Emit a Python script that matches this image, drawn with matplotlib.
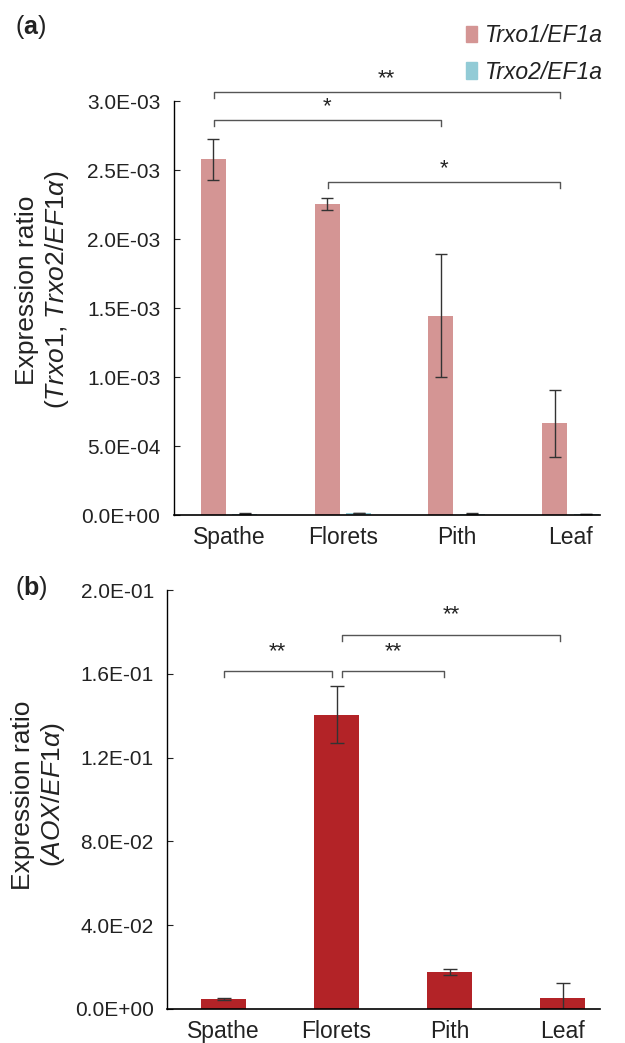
import matplotlib
matplotlib.use("Agg")
import matplotlib.pyplot as plt
from matplotlib.patches import Patch

plt.rcParams['font.family'] = ['Liberation Sans', 'DejaVu Sans']
plt.rcParams['mathtext.fontset'] = 'custom'
plt.rcParams['mathtext.rm'] = 'Liberation Sans'
plt.rcParams['mathtext.it'] = 'Liberation Sans:italic'
plt.rcParams['mathtext.bf'] = 'Liberation Sans:bold'

# data
tissues = ['Spathe', 'Florets', 'Pith', 'Leaf']
trxo1 = [2.58e-3, 2.255e-3, 1.445e-3, 0.665e-3]
trxo1_err = [0.15e-3, 0.045e-3, 0.445e-3, 0.245e-3]
trxo2 = [1.0e-5, 1.5e-5, 1.0e-5, 0.6e-5]
trxo2_err = [0.3e-5, 0.3e-5, 0.3e-5, 0.2e-5]
aox = [0.0048, 0.1405, 0.0176, 0.0052]
aox_err = [0.0006, 0.0135, 0.0015, 0.0072]

a_ticks = [0, 0.5e-3, 1.0e-3, 1.5e-3, 2.0e-3, 2.5e-3, 3.0e-3]
a_ticklabels = ['0.0E+00', '5.0E-04', '1.0E-03', '1.5E-03', '2.0E-03', '2.5E-03', '3.0E-03']
b_ticks = [0, 0.04, 0.08, 0.12, 0.16, 0.2]
b_ticklabels = ['0.0E+00', '4.0E-02', '8.0E-02', '1.2E-01', '1.6E-01', '2.0E-01']

# significance brackets: (x start, x end, height, label)
a_sig = [(-0.136, 2.907, 3.069e-3, '**'),
         (-0.136, 1.864, 2.866e-3, '*'),
         (0.866, 2.907, 2.416e-3, '*')]
b_sig = [(0.0, 0.96, 0.1613, '**'),
         (1.049, 1.95, 0.1613, '**'),
         (1.049, 2.978, 0.1785, '**')]

c_trxo1 = '#D49594'
c_trxo2 = '#92CBD6'
c_aox = '#B32327'
ecol = '#333333'
tcol = '#222222'

fig = plt.figure(figsize=(6.25, 10.43), dpi=100)
ax1 = fig.add_axes([0.2776, 0.5062, 0.6824, 0.3965])
ax2 = fig.add_axes([0.2672, 0.0326, 0.6928, 0.4017])


def style(ax):
    for s in ['top', 'right']:
        ax.spines[s].set_visible(False)
    ax.spines['left'].set_linewidth(1.0)
    ax.spines['bottom'].set_linewidth(1.2)
    ax.tick_params(axis='y', direction='in', length=4, width=0.8, pad=9.5,
                   labelsize=15, colors=tcol)
    ax.tick_params(axis='x', length=0, pad=8, labelsize=16.5, colors=tcol)


def brackets(ax, sigs, drop, off):
    for x0, x1, y, lab in sigs:
        ax.plot([x0, x0, x1, x1], [y - drop, y, y, y - drop], color='#555555',
                lw=1.0, clip_on=False)
        ax.text((x0 + x1) / 2, y + off, lab, ha='center', va='center',
                fontsize=16, color=tcol)


xs = list(range(len(tissues)))
w = 0.22
d = 0.1385
ax1.bar([x - d for x in xs], trxo1, width=w, color=c_trxo1,
        yerr=trxo1_err, error_kw=dict(ecolor=ecol, elinewidth=1, capsize=4.3, capthick=1))
ax1.bar([x + d for x in xs], trxo2, width=w, color=c_trxo2,
        yerr=trxo2_err, error_kw=dict(ecolor=ecol, elinewidth=1, capsize=4.3, capthick=1))
ax1.set_xlim(-0.49, 3.26)
ax1.set_ylim(0, 3.0e-3)
ax1.set_yticks(a_ticks)
ax1.set_yticklabels(a_ticklabels)
ax1.set_xticks(xs)
ax1.set_xticklabels(tissues)
style(ax1)
brackets(ax1, a_sig, 0.045e-3, 0.095e-3)

ax2.bar(xs, aox, width=0.4, color=c_aox,
        yerr=aox_err, error_kw=dict(ecolor=ecol, elinewidth=1, capsize=5, capthick=1))
ax2.set_xlim(-0.5, 3.33)
ax2.set_ylim(0, 0.2)
ax2.set_yticks(b_ticks)
ax2.set_yticklabels(b_ticklabels)
ax2.set_xticks(xs)
ax2.set_xticklabels(tissues)
style(ax2)
brackets(ax2, b_sig, 0.003, 0.0095)

# legend
handles = [Patch(color=c_trxo1, label='Trxo1/EF1a'),
           Patch(color=c_trxo2, label='Trxo2/EF1a')]
fig.legend(handles=handles, loc='upper left', bbox_to_anchor=(0.712, 0.997),
           frameon=False, prop=dict(style='italic', size=16.5),
           handlelength=0.5, handleheight=0.7, handletextpad=0.35,
           labelspacing=0.6, labelcolor=tcol)

# y labels
fig.text(0.069, 1 - 290 / 1043, 'Expression ratio\n($\\mathit{Trxo1}$, $\\mathit{Trxo2/EF1α}$)',
         rotation=90, ha='center', va='center', multialignment='center',
         fontsize=19, color=tcol, linespacing=1.2)
fig.text(0.062, 1 - 795 / 1043, 'Expression ratio\n($\\mathit{AOX/EF1α}$)',
         rotation=90, ha='center', va='center', multialignment='center',
         fontsize=19, color=tcol, linespacing=1.2)

# panel letters
for lab, y in [('a', 27), ('b', 588)]:
    fig.text(0.024, 1 - y / 1043, '($\\mathbf{%s}$)' % lab, fontsize=18,
             va='center', ha='left', color=tcol)

fig.savefig('out.png', dpi=100)
